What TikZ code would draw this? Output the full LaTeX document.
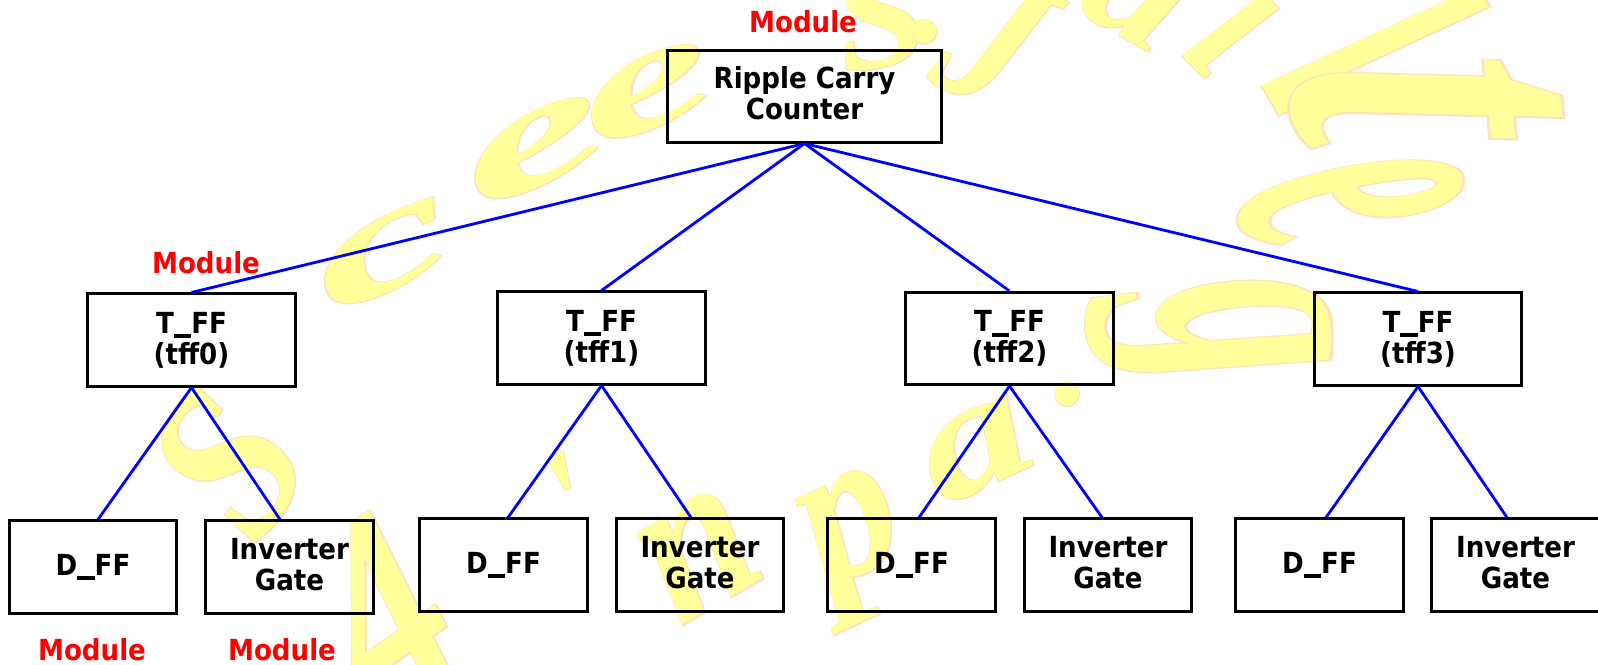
\documentclass[tikz,border=0pt]{standalone}
\usepackage{fontspec}
\usetikzlibrary{calc}

% label face: bold humanist sans, slightly narrowed
\newfontfamily\labelfont{DejaVu Sans}[FakeStretch=0.9]
% watermark face and a thickened copy of it for the rim
\newfontfamily\wmfont{Liberation Serif}
\newfontfamily\wmrimfont{Liberation Serif}[BoldItalicFeatures={FakeBold=1.2}]

\definecolor{wmyellow}{RGB}{255,255,155}
\definecolor{wmrim}{RGB}{255,226,188}
\definecolor{linkblue}{RGB}{0,0,255}
\definecolor{tagred}{RGB}{255,0,0}

% wide underscore and an invisible depth to nudge a text block upward
\newcommand\usc{\rule[-0.17em]{0.6em}{0.13em}}
\newcommand\lift[1]{\rule[-#1]{0pt}{0pt}}

% one watermark glyph: name, position, angle, xscale, yscale, glyph
\newcommand\wmchar[6]{%
  \node[wm rim, rotate=#3, xscale=#4, yscale=#5] (#1r) at (#2) {#6};
  \node[wm fill, rotate=#3, xscale=#4, yscale=#5] (#1) at (#2) {#6};}

\tikzset{
  unit box/.style={draw, line width=0.85pt, inner sep=0pt, align=center,
    font=\labelfont\bfseries\fontsize{8.25pt}{8.82pt}\selectfont},
  topbox/.style={unit box, minimum width=2.73cm, minimum height=0.91cm},
  ffbox/.style={unit box, minimum width=2.07cm, minimum height=0.92cm},
  leafbox/.style={unit box, minimum width=1.67cm, minimum height=0.92cm},
  tag/.style={anchor=base, inner sep=0pt, text=tagred,
    font=\labelfont\bfseries\fontsize{8.25pt}{8.82pt}\selectfont},
  wire/.style={draw=linkblue, line width=0.8pt},
  wm rim/.style={inner sep=0pt, text=wmrim,
    font=\wmrimfont\bfseries\itshape\fontsize{42pt}{44pt}\selectfont},
  wm fill/.style={inner sep=0pt, text=wmyellow,
    font=\wmfont\bfseries\itshape\fontsize{42pt}{44pt}\selectfont},
}

\begin{document}
\begin{tikzpicture}[x=0.01cm, y=-0.01cm]
\useasboundingbox (0,0) rectangle (1598,664);

% background watermark
\begin{scope}
  \clip (0,0) rectangle (1598,664);
  \wmchar{w1}{385,255}{25}{2.2}{1.0}{c}
  \wmchar{w2}{535,150}{25}{2.3}{1.0}{e}
  \wmchar{w3}{648,93}{22}{2.1}{1.0}{e}
  \wmchar{w4}{880,18}{10}{1.1}{1.0}{S}
  \wmchar{w5}{930,32}{0}{1.0}{1.0}{.}
  \wmchar{w6}{995,40}{-30}{1.1}{1.4}{J}
  \wmchar{w7}{1133,0}{-30}{1.3}{1.1}{a}
  \wmchar{w8}{1250,15}{-45}{1.1}{1.5}{i}
  \wmchar{w9}{1375,45}{-60}{1.2}{2.3}{l}
  \wmchar{w10}{1425,98}{-85}{2.0}{3.2}{t}
  \wmchar{w11}{1350,198}{-75}{1.1}{3.2}{e}
  \wmchar{w12}{1210,334}{-80}{1.4}{2.4}{g}
  \wmchar{w13}{228,463}{55}{1.3}{1.5}{S}
  \wmchar{w14}{380,610}{35}{1.5}{1.8}{4}
  \wmchar{w15}{572,502}{30}{1.0}{1.0}{'}
  \wmchar{w16}{700,555}{30}{1.3}{1.5}{n}
  \wmchar{w17}{860,545}{25}{1.3}{1.4}{p}
  \wmchar{w18}{977,450}{25}{1.5}{1.1}{a}
  \wmchar{w19}{1072,392}{25}{1.0}{1.0}{.}
\end{scope}

% counter and its four flip-flops
\node[topbox] (top) at (804.5,96.5) {Ripple Carry\\Counter\lift{0.08cm}};
\node[ffbox] (t0) at (191.5,340) {T\usc FF\\(tff0)};
\node[ffbox] (t1) at (601.5,338) {T\usc FF\\(tff1)};
\node[ffbox] (t2) at (1009.5,338.5) {T\usc FF\\(tff2)};
\node[ffbox] (t3) at (1418,339) {T\usc FF\\(tff3)};

% leaf modules
\node[leafbox] (d0) at (93,567) {D\usc FF};
\node[leafbox] (i0) at (289.5,567) {Inverter\\Gate\lift{0.06cm}};
\node[leafbox] (d1) at (503.5,565) {D\usc FF};
\node[leafbox] (i1) at (700,565) {Inverter\\Gate\lift{0.06cm}};
\node[leafbox] (d2) at (911.5,565) {D\usc FF};
\node[leafbox] (i2) at (1108,565) {Inverter\\Gate\lift{0.06cm}};
\node[leafbox] (d3) at (1319.5,565) {D\usc FF};
\node[leafbox] (i3) at (1515.5,565) {Inverter\\Gate\lift{0.06cm}};

% red captions
\node[tag] (mtop) at (803,33) {Module};
\node[tag] (mff) at (206,273) {Module};
\node[tag] (mdff) at (92,660) {Module};
\node[tag] (minv) at (282,660) {Module};

% hierarchy links
\foreach \t in {t0,t1,t2,t3}
  \draw[wire] (top.south) -- (\t.north);
\draw[wire] (t0.south) -- ($(d0.north)+(5,0)$);
\draw[wire] (t0.south) -- ($(i0.north)+(-9.5,0)$);
\draw[wire] (t1.south) -- ($(d1.north)+(4.5,0)$);
\draw[wire] (t1.south) -- ($(i1.north)+(-9,0)$);
\draw[wire] (t2.south) -- ($(d2.north)+(7.5,0)$);
\draw[wire] (t2.south) -- ($(i2.north)+(-6,0)$);
\draw[wire] (t3.south) -- ($(d3.north)+(6.5,0)$);
\draw[wire] (t3.south) -- ($(i3.north)+(-8.5,0)$);
\end{tikzpicture}
\end{document}
